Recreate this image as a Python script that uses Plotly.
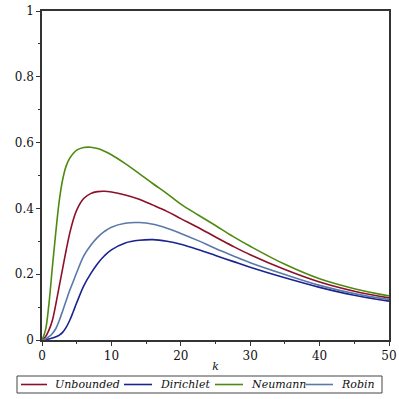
import plotly.graph_objects as go

# values
k = [0, 0.5, 1, 1.5, 2, 2.5, 3, 3.5, 4, 4.5, 5, 6, 7, 8, 9, 10, 12, 14, 16, 18, 20,
     22.5, 25, 27.5, 30, 35, 40, 45, 50]

unbounded = [0, 0.01, 0.03, 0.06, 0.11, 0.165, 0.22, 0.275, 0.325, 0.365, 0.395, 0.43,
             0.445, 0.451, 0.452, 0.45, 0.441, 0.428, 0.41, 0.391, 0.369,
             0.342, 0.313, 0.285, 0.259, 0.214, 0.176, 0.148, 0.128]
dirichlet = [0, 0.001, 0.003, 0.006, 0.01, 0.015, 0.024, 0.039, 0.06, 0.086, 0.113,
             0.164, 0.201, 0.232, 0.256, 0.274, 0.295, 0.303, 0.305, 0.3, 0.291,
             0.275, 0.257, 0.239, 0.221, 0.189, 0.16, 0.136, 0.118]
neumann = [0, 0.03, 0.11, 0.223, 0.33, 0.425, 0.49, 0.53, 0.553, 0.567, 0.577, 0.585,
           0.586, 0.582, 0.574, 0.563, 0.536, 0.506, 0.475, 0.445, 0.413,
           0.38, 0.348, 0.315, 0.285, 0.23, 0.186, 0.156, 0.134]
robin = [0, 0.003, 0.01, 0.02, 0.035, 0.06, 0.09, 0.121, 0.151, 0.178, 0.205, 0.255,
         0.287, 0.312, 0.33, 0.343, 0.355, 0.357, 0.352, 0.34, 0.324,
         0.302, 0.278, 0.256, 0.235, 0.199, 0.166, 0.141, 0.123]

names = ["Unbounded", "Dirichlet", "Neumann", "Robin"]
colors = ["#8C1028", "#1A2490", "#4E8A10", "#5A78A8"]

y_ticks = [0, 0.2, 0.4, 0.6, 0.8, 1]
y_labels = ["0", "0.2", "0.4", "0.6", "0.8", "1"]
x_ticks = [0, 10, 20, 30, 40, 50]

font = "DejaVu Serif"
W, H = 399, 399
L, R, T, B = 42, 10, 11, 59

# hand-made legend box (pixel positions in the page), Maple style
leg_box = (17, 376, 382, 393)
leg_lines = [(21, 47), (124, 152), (215, 243), (306, 333)]


def px_x(p):
    return (p - L) / (W - L - R)


def px_y(p):
    return (H - B - p) / (H - T - B)


fig = go.Figure()
for name, vals, col in zip(names, [unbounded, dirichlet, neumann, robin], colors):
    fig.add_trace(go.Scatter(x=k, y=vals, mode="lines", name=name, showlegend=False,
                             line=dict(color=col, width=1.6, shape="spline", smoothing=1)))

x0, y0, x1, y1 = leg_box
fig.add_shape(type="rect", xref="paper", yref="paper",
              x0=px_x(x0), x1=px_x(x1), y0=px_y(y0), y1=px_y(y1),
              line=dict(color="#444", width=1), fillcolor="white")
ymid = px_y((y0 + y1) / 2)
for name, col, (a, b) in zip(names, colors, leg_lines):
    fig.add_shape(type="line", xref="paper", yref="paper",
                  x0=px_x(a), x1=px_x(b), y0=ymid, y1=ymid,
                  line=dict(color=col, width=1.6))
    fig.add_annotation(text="<i>%s</i>" % name, xref="paper", yref="paper",
                       x=px_x(b + 6), y=ymid, xanchor="left", yanchor="middle",
                       showarrow=False, font=dict(size=11))

fig.update_xaxes(range=[0, 50], tickvals=x_ticks, ticks="outside", ticklen=4,
                 tickcolor="#333", showline=True, linecolor="#333", linewidth=1.5,
                 mirror=True, showgrid=False, zeroline=False, automargin=False,
                 minor=dict(ticks="outside", ticklen=2, dtick=5, tickcolor="#333"),
                 title=dict(text="<i>k</i>", standoff=0, font=dict(size=11)))
fig.update_yaxes(range=[0, 1], tickvals=y_ticks, ticktext=y_labels, ticks="outside",
                 ticklen=4, tickcolor="#333", showline=True, linecolor="#333",
                 linewidth=1.5, mirror=True, showgrid=False, zeroline=False,
                 automargin=False,
                 minor=dict(ticks="outside", ticklen=2, dtick=0.1, tickcolor="#333"))

fig.update_layout(
    width=W, height=H,
    margin=dict(l=L, r=R, t=T, b=B),
    paper_bgcolor="white", plot_bgcolor="white",
    font=dict(family=font, size=12, color="#111"),
    showlegend=False,
)

# page body has a default margin; drop it so the figure fills the window
fig.write_html("out.html", config={"displayModeBar": False},
               post_script="document.body.style.margin='0';")
